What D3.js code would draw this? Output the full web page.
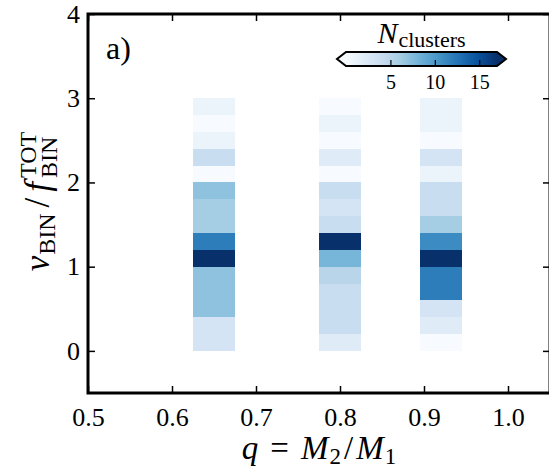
<!DOCTYPE html>
<html>
<head>
<meta charset="utf-8">
<script src="https://cdn.jsdelivr.net/npm/d3@7"></script>
<style>
  html, body { margin: 0; padding: 0; background: #fff; }
  svg { display: block; }
  svg text { font-family: "Liberation Serif", serif !important; fill: #000; }
</style>
</head>
<body>
<svg id="chart" width="549" height="470"></svg>
<script>
// ---------------- data ----------------
const qValues = [0.65, 0.80, 0.92];            // column centres (q = M2/M1)
const qBinWidth = 0.05;
const nuBinLower = [0.0, 0.2, 0.4, 0.6, 0.8, 1.0, 1.2, 1.4, 1.6, 1.8, 2.0, 2.2, 2.4, 2.6, 2.8];
const nuBinHeight = 0.2;
// counts per nu-bin, bottom to top
const countsQ065 = [3, 3, 7, 7, 7, 17, 12, 6, 6, 7, 0, 4, 1, 0, 1];
const countsQ080 = [2, 4, 4, 4, 5, 8, 17, 4, 3, 4, 0, 2, 0, 1, 0];
const countsQ092 = [0, 2, 3, 12, 12, 17, 11, 6, 4, 4, 1, 3, 0, 1, 1];
const countsByColumn = [countsQ065, countsQ080, countsQ092];

const xTicks = [0.5, 0.6, 0.7, 0.8, 0.9, 1.0];
const yTicks = [0, 1, 2, 3, 4];
const cbarTicks = [5, 10, 15];
const cbarMin = 0, cbarMax = 17;

// matplotlib "Blues" (linear segmented)
const bluesStops = ["#f7fbff", "#deebf7", "#c6dbef", "#9ecae1", "#6baed6", "#4292c6", "#2171b5", "#08519c", "#08306b"];
const blues = d3.scaleLinear()
  .domain(d3.range(bluesStops.length).map(i => i / (bluesStops.length - 1)))
  .range(bluesStops).interpolate(d3.interpolateRgb).clamp(true);
const colorOf = v => blues((v - cbarMin) / (cbarMax - cbarMin));

// ---------------- layout ----------------
const svg = d3.select("#chart");
const X0 = 88, X1 = 550, Y0 = 393, Y1 = 14;
const x = d3.scaleLinear().domain([0.5, 1.05]).range([X0, X1]);
const y = d3.scaleLinear().domain([-0.5, 4]).range([Y0, Y1]);
const SERIF = '"Liberation Serif", serif';

// cells
const cells = [];
countsByColumn.forEach((arr, ci) => {
  arr.forEach((v, bi) => cells.push({q: qValues[ci], lo: nuBinLower[bi], v}));
});
svg.append("g").attr("shape-rendering", "crispEdges").selectAll("rect").data(cells).join("rect")
  .attr("x", d => x(d.q - qBinWidth / 2))
  .attr("width", d => x(d.q + qBinWidth / 2) - x(d.q - qBinWidth / 2))
  .attr("y", d => y(d.lo + nuBinHeight))
  .attr("height", d => y(d.lo) - y(d.lo + nuBinHeight))
  .attr("fill", d => colorOf(d.v));

// axes (ticks inward)
const tickStyle = (g, fs) => {
  g.attr("font-family", SERIF).attr("font-size", null);
  g.select(".domain").remove();
  g.selectAll(".tick line").attr("stroke", "#000").attr("stroke-width", 1.5);
  g.selectAll(".tick text").style("font-size", (fs || 24) + "px").style("font-family", SERIF).attr("fill", "#000");
};
svg.append("g").attr("transform", `translate(0,${Y0})`)
  .call(d3.axisBottom(x).tickValues(xTicks).tickFormat(d3.format(".1f")).tickSizeInner(-7).tickSizeOuter(0).tickPadding(15))
  .call(g => tickStyle(g, 26));
svg.append("g").attr("transform", `translate(0,${Y1})`)
  .call(d3.axisTop(x).tickValues(xTicks).tickFormat("").tickSizeInner(-7).tickSizeOuter(0))
  .call(g => tickStyle(g));
svg.append("g").attr("transform", `translate(${X0},0)`)
  .call(d3.axisLeft(y).tickValues(yTicks).tickFormat(d3.format("d")).tickSizeInner(-7).tickSizeOuter(0).tickPadding(8))
  .call(g => tickStyle(g, 26));
svg.append("g").attr("transform", `translate(${X1},0)`)
  .call(d3.axisRight(y).tickValues(yTicks).tickFormat("").tickSizeInner(-7).tickSizeOuter(0))
  .call(g => tickStyle(g));

// frame
svg.append("rect").attr("x", X0).attr("y", Y1).attr("width", X1 - X0).attr("height", Y0 - Y1)
  .attr("fill", "none").attr("stroke", "#000").attr("stroke-width", 3);

// ---------------- math text helper ----------------
function mathText(g, pieces) {
  let cursor = 0, prevX = 0;
  pieces.forEach(p => {
    const t = g.append("text")
      .style("font-size", p.size + "px")
      .style("font-style", p.italic ? "italic" : "normal")
      .style("font-family", SERIF)
      .text(p.t);
    const w = t.node().getComputedTextLength();
    let px;
    if (p.stack) { px = prevX; cursor = Math.max(cursor, prevX + w + (p.gap || 0)); }
    else { px = cursor + (p.pre || 0); cursor = px + w + (p.gap || 0); prevX = px; }
    t.attr("x", px).attr("y", p.dy || 0);
  });
  const total = cursor;
  g.selectAll("text").attr("x", function() { return +d3.select(this).attr("x") - total / 2; });
  return total;
}

// x label
mathText(svg.append("g").attr("transform", `translate(${(X0 + X1) / 2},459)`), [
  {t: "q", italic: true, size: 33, gap: 12},
  {t: "=", size: 33, gap: 12},
  {t: "M", italic: true, size: 33, gap: 1},
  {t: "2", size: 23, dy: 5, gap: 3},
  {t: "/", size: 33, gap: 3},
  {t: "M", italic: true, size: 33, gap: 1},
  {t: "1", size: 23, dy: 5}
]);

// y label
mathText(svg.append("g").attr("transform", `translate(49,${(Y0 + Y1) / 2 - 2}) rotate(-90)`), [
  {t: "ν", italic: true, size: 35, gap: 1},
  {t: "BIN", size: 24, dy: 6, gap: 6},
  {t: "/", size: 35, gap: 6},
  {t: "f", italic: true, size: 35, gap: 4},
  {t: "TOT", size: 24, dy: -13},
  {t: "BIN", size: 24, dy: 8, stack: true}
]);

// panel label
svg.append("text").attr("x", 106).attr("y", 59).style("font-size", "32px").style("font-family", SERIF).text("a)");

// ---------------- colorbar ----------------
const cb = d3.scaleLinear().domain([cbarMin, cbarMax]).range([346, 497]);
const cbTop = 52, cbBot = 66, cbTip = 9;
const defs = svg.append("defs");
const grad = defs.append("linearGradient").attr("id", "cbgrad").attr("x1", "0%").attr("x2", "100%");
bluesStops.forEach((c, i) => grad.append("stop").attr("offset", (100 * i / (bluesStops.length - 1)) + "%").attr("stop-color", c));
svg.append("rect").attr("x", cb(cbarMin)).attr("y", cbTop).attr("width", cb(cbarMax) - cb(cbarMin))
  .attr("height", cbBot - cbTop).attr("fill", "url(#cbgrad)");
const midY = (cbTop + cbBot) / 2;
svg.append("path").attr("d", `M${cb(cbarMin)},${cbTop}L${cb(cbarMin) - cbTip},${midY}L${cb(cbarMin)},${cbBot}Z`)
  .attr("fill", bluesStops[0]);
svg.append("path").attr("d", `M${cb(cbarMax)},${cbTop}L${cb(cbarMax) + cbTip},${midY}L${cb(cbarMax)},${cbBot}Z`)
  .attr("fill", bluesStops[bluesStops.length - 1]);
svg.append("g").attr("transform", `translate(0,${cbBot})`)
  .call(d3.axisBottom(cb).tickValues(cbarTicks).tickFormat(d3.format("d")).tickSizeInner(-6).tickSizeOuter(0).tickPadding(9))
  .call(g => {
    g.attr("font-family", SERIF);
    g.select(".domain").remove();
    g.selectAll(".tick line").attr("stroke", "#000").attr("stroke-width", 1.2);
    g.selectAll(".tick text").style("font-size", "20px").style("font-family", SERIF).attr("fill", "#000");
  });
svg.append("path")
  .attr("d", `M${cb(cbarMin)},${cbTop}L${cb(cbarMax)},${cbTop}L${cb(cbarMax) + cbTip},${midY}L${cb(cbarMax)},${cbBot}L${cb(cbarMin)},${cbBot}L${cb(cbarMin) - cbTip},${midY}Z`)
  .attr("fill", "none").attr("stroke", "#000").attr("stroke-width", 2).attr("stroke-linejoin", "miter");

// colorbar title
mathText(svg.append("g").attr("transform", `translate(${(cb(cbarMin) + cb(cbarMax)) / 2},43)`), [
  {t: "N", italic: true, size: 30, gap: 1},
  {t: "clusters", size: 22, dy: 4}
]);
</script>
</body>
</html>
